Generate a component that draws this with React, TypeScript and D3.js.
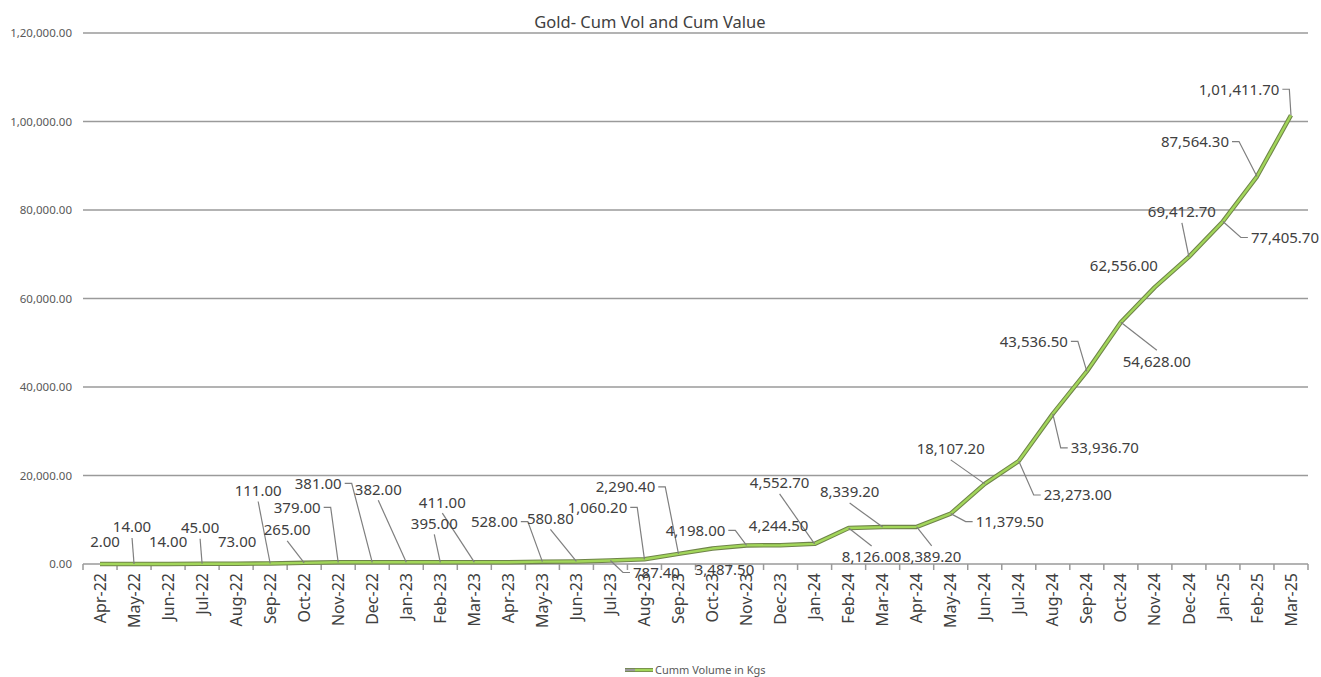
import * as React from 'react';
import * as d3 from 'd3';

// months on the category axis
const months = [
  'Apr-22', 'May-22', 'Jun-22', 'Jul-22', 'Aug-22', 'Sep-22', 'Oct-22', 'Nov-22', 'Dec-22',
  'Jan-23', 'Feb-23', 'Mar-23', 'Apr-23', 'May-23', 'Jun-23', 'Jul-23', 'Aug-23', 'Sep-23',
  'Oct-23', 'Nov-23', 'Dec-23', 'Jan-24', 'Feb-24', 'Mar-24', 'Apr-24', 'May-24', 'Jun-24',
  'Jul-24', 'Aug-24', 'Sep-24', 'Oct-24', 'Nov-24', 'Dec-24', 'Jan-25', 'Feb-25', 'Mar-25',
];

// cumulative volume in kgs (Apr-23 has no visible label; estimated flat)
const cumVolume = [
  2.0, 14.0, 14.0, 45.0, 73.0, 111.0, 265.0, 379.0, 381.0,
  382.0, 395.0, 411.0, 411.0, 528.0, 580.8, 787.4, 1060.2, 2290.4,
  3487.5, 4198.0, 4244.5, 4552.7, 8126.0, 8339.2, 8389.2, 11379.5, 18107.2,
  23273.0, 33936.7, 43536.5, 54628.0, 62556.0, 69412.7, 77405.7, 87564.3, 101411.7,
];

// which points carry a data label
const labelShown = cumVolume.map((_, i) => i !== 12);

const yTicks = [0, 20000, 40000, 60000, 80000, 100000, 120000];

const title = 'Gold- Cum Vol and Cum Value';
const seriesName = 'Cumm Volume in Kgs';

// hand-placed label offsets (px from the point), like the dragged Excel labels
const labelOffsets: [number, number][] = [
  [5, -22], [-2, -37], [0, -22], [-2, -36], [1, -22], [-12, -73], [-17, -33], [-41, -55], [-54, -79],
  [-28, -73], [-6, -39], [-32, -60], [0, -22], [-48, -40], [-26, -43], [46, 12], [-47, -52], [-53, -67],
  [12, 21], [-51, -15], [-2, -20], [-35, -61], [23, 29], [-33, -35], [15, 30], [59, 8], [-34, -35],
  [59, 34], [52, 34], [-53, -30], [36, 39], [-31, -22], [-7, -45], [62, 16], [-62, -35], [-52, -26],
];

const W = 1321;
const H = 677;
const margin = { top: 33, right: 13, bottom: 113, left: 83 };

// Indian digit grouping: 1,01,411.70
function indianFormat(v: number): string {
  const [intPart, dec] = v.toFixed(2).split('.');
  let head = intPart;
  let tail = '';
  if (head.length > 3) {
    tail = ',' + head.slice(-3);
    head = head.slice(0, -3);
    const parts: string[] = [];
    while (head.length > 2) {
      parts.unshift(head.slice(-2));
      head = head.slice(0, -2);
    }
    if (head.length) parts.unshift(head);
    head = parts.join(',');
  }
  return head + tail + '.' + dec;
}

export default function App() {
  const ref = React.useRef<SVGSVGElement>(null);

  React.useEffect(() => {
    document.body.style.margin = '0';
    const el = ref.current;
    if (!el) return;
    el.innerHTML = '';
    const svg = d3.select(el);
    const font = '"Noto Sans", "Open Sans", sans-serif';

    const x = d3.scaleBand<string>()
      .domain(months)
      .range([margin.left, W - margin.right]);
    const cx = (i: number) => x(months[i])! + x.bandwidth() / 2;
    const y = d3.scaleLinear()
      .domain([0, 120000])
      .range([H - margin.bottom, margin.top]);

    svg.append('rect').attr('width', W).attr('height', H).attr('fill', '#ffffff');

    // gridlines + y labels
    const grid = svg.append('g');
    grid.selectAll('line')
      .data(yTicks)
      .enter().append('line')
        .attr('x1', margin.left)
        .attr('x2', W - margin.right)
        .attr('y1', d => y(d))
        .attr('y2', d => y(d))
        .attr('stroke', '#9a9a9a')
        .attr('stroke-width', 1.5);
    grid.selectAll('text')
      .data(yTicks)
      .enter().append('text')
        .attr('x', margin.left - 11)
        .attr('y', d => y(d))
        .attr('dy', '0.35em')
        .attr('text-anchor', 'end')
        .attr('font-family', font)
        .attr('font-size', 11.5)
        .attr('fill', '#595959')
        .text(d => indianFormat(d));

    // x axis ticks at category boundaries
    const bounds = months.map(m => x(m)!).concat([W - margin.right]);
    svg.append('g').selectAll('line')
      .data(bounds)
      .enter().append('line')
        .attr('x1', d => d)
        .attr('x2', d => d)
        .attr('y1', y(0))
        .attr('y2', y(0) + 6)
        .attr('stroke', '#9a9a9a')
        .attr('stroke-width', 1.5);

    svg.append('g').selectAll('text')
      .data(months)
      .enter().append('text')
        .attr('transform', (_, i) => `translate(${cx(i)},${y(0) + 9}) rotate(-90)`)
        .attr('dy', '0.35em')
        .attr('text-anchor', 'end')
        .attr('font-family', font)
        .attr('font-size', 16)
        .attr('fill', '#404040')
        .text(d => d);

    // the line
    const line = d3.line<number>()
      .x((_, i) => cx(i))
      .y(d => y(d));
    svg.append('path')
      .datum(cumVolume)
      .attr('d', line)
      .attr('fill', 'none')
      .attr('stroke', '#6f8449')
      .attr('stroke-width', 4.5)
      .attr('stroke-linejoin', 'round');
    svg.append('path')
      .datum(cumVolume)
      .attr('d', line)
      .attr('fill', 'none')
      .attr('stroke', '#a2d65a')
      .attr('stroke-width', 2.4)
      .attr('stroke-linejoin', 'round');

    // data labels with leader lines
    const leaders = svg.append('g');
    const labels = svg.append('g');
    cumVolume.forEach((v, i) => {
      if (!labelShown[i]) return;
      const px = cx(i);
      const py = y(v);
      const lx = px + labelOffsets[i][0];
      const ly = py + labelOffsets[i][1];
      const t = labels.append('text')
        .attr('x', lx)
        .attr('y', ly)
        .attr('dy', '0.36em')
        .attr('text-anchor', 'middle')
        .attr('font-family', font)
        .attr('font-size', 15)
        .attr('fill', '#404040')
        .text(indianFormat(v));
      const w = (t.node() as SVGTextElement).getComputedTextLength();
      const left = lx - w / 2;
      const right = lx + w / 2;
      const top = ly - 8;
      const bottom = ly + 8;
      const dxBox = px < left ? left - px : px > right ? px - right : 0;
      const dyBox = py < top ? top - py : py > bottom ? py - bottom : 0;
      if (Math.hypot(dxBox, dyBox) < 18) return;
      let pts: [number, number][];
      if (px > right + 10) {
        pts = [[right + 3, ly], [right + 10, ly], [px, py]];
      } else if (px < left - 10) {
        pts = [[left - 3, ly], [left - 10, ly], [px, py]];
      } else if (py > bottom) {
        pts = [[lx, bottom + 3], [px, py]];
      } else {
        pts = [[lx, top - 3], [px, py]];
      }
      leaders.append('path')
        .attr('d', d3.line()(pts))
        .attr('fill', 'none')
        .attr('stroke', '#7f7f7f')
        .attr('stroke-width', 1.2);
    });

    // title
    svg.append('text')
      .attr('x', 650)
      .attr('y', 22)
      .attr('dy', '0.35em')
      .attr('text-anchor', 'middle')
      .attr('font-family', font)
      .attr('font-size', 16.5)
      .attr('fill', '#404040')
      .text(title);

    // legend
    const lg = svg.append('g').attr('transform', 'translate(625,670)');
    lg.append('line').attr('x1', 0).attr('x2', 28).attr('y1', 0).attr('y2', 0)
      .attr('stroke', '#6f8449').attr('stroke-width', 4);
    lg.append('line').attr('x1', 0).attr('x2', 10).attr('y1', 0).attr('y2', 0)
      .attr('stroke', '#9a9a9a').attr('stroke-width', 2.4);
    lg.append('line').attr('x1', 10).attr('x2', 28).attr('y1', 0).attr('y2', 0)
      .attr('stroke', '#a2d65a').attr('stroke-width', 2.4);
    lg.append('text')
      .attr('x', 30)
      .attr('y', 0)
      .attr('dy', '0.35em')
      .attr('font-family', font)
      .attr('font-size', 11)
      .attr('fill', '#595959')
      .text(seriesName);
  }, []);

  return <svg ref={ref} width={W} height={H} style={{ display: 'block' }} />;
}
